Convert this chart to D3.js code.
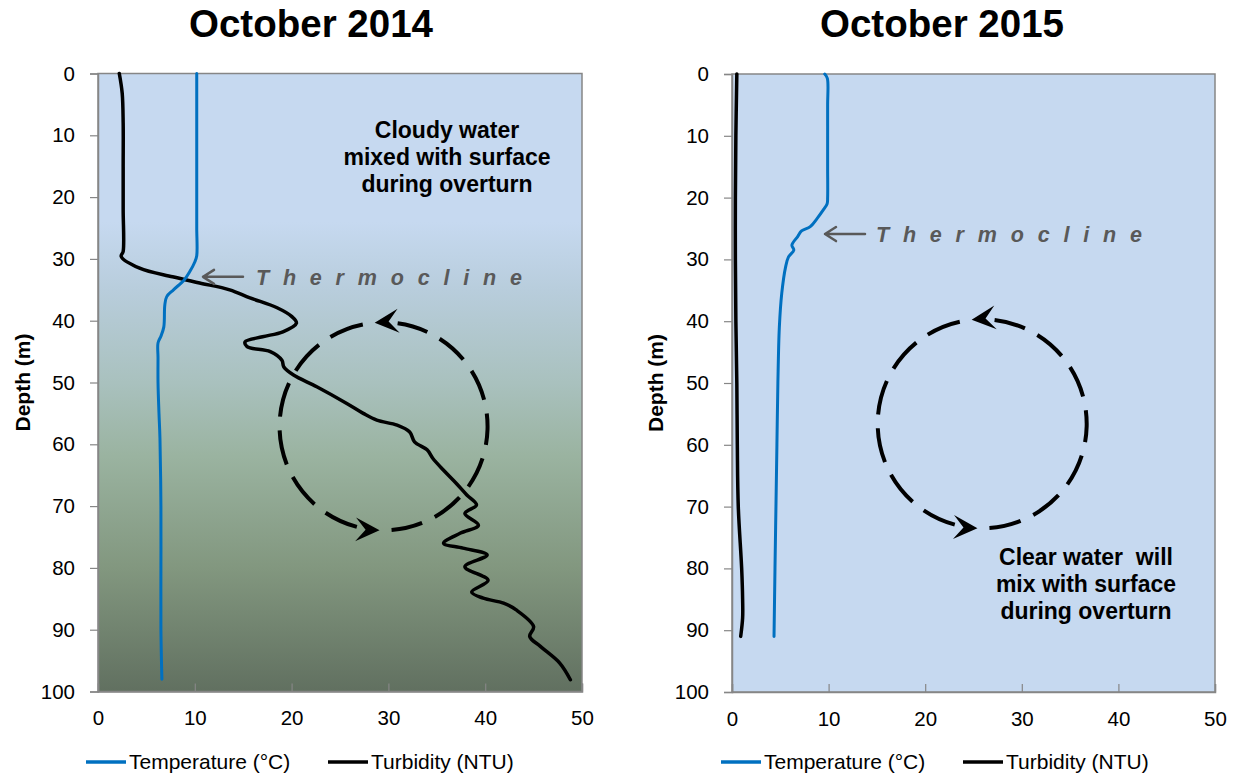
<!DOCTYPE html>
<html><head><meta charset="utf-8">
<script src="https://cdn.jsdelivr.net/npm/d3@7"></script>
<style>
body{margin:0;background:#fff}
text{font-family:"Liberation Sans",Arial,sans-serif}
</style>
</head><body>
<svg id="chart" width="1234" height="778"></svg>
<script>
// ---------- data ----------
const depthTicks = [0,10,20,30,40,50,60,70,80,90,100];
const valueTicks = [0,10,20,30,40,50];
const titles = ["October 2014","October 2015"];
const legendLabels = ["Temperature (°C)","Turbidity (NTU)"];
const axisLabel = "Depth (m)";
const thermoclineLabel = "Thermocline";
const note2014 = ["Cloudy water","mixed with surface","during overturn"];
const note2015 = ["Clear water  will","mix with surface","during overturn"];

// [depth (m), value]
const temp2014 = [[0,10.2],[5,10.2],[10,10.2],[15,10.2],[20,10.2],[25,10.2],[29.5,10.2],[30.5,10.0],[32,9.5],[33.4,8.9],[35,7.8],[36.1,7.1],[37.5,6.9],[41,6.8],[42.5,6.5],[43.6,6.2],[46,6.2],[50,6.2],[55,6.3],[59,6.4],[70,6.5],[80,6.5],[90,6.5],[98,6.6]];
const turb2014 = [[0,2.2],[3.2,2.5],[8,2.6],[15,2.6],[22,2.6],[28.8,2.6],[29.6,2.4],[31.5,4.3],[32.9,7.7],[33.9,10.5],[35.0,13.6],[36.3,15.7],[37.9,18.5],[39.3,20.0],[40.4,20.5],[41.8,19.1],[42.6,17.0],[43.4,15.2],[44.2,15.4],[45.0,17.8],[46.4,19.0],[47.5,19.2],[48.8,20.2],[50.7,22.6],[53.4,25.7],[55.0,27.4],[56.1,28.8],[56.9,30.9],[58.0,32.2],[59.6,32.7],[60.9,34.0],[62.3,34.6],[64.2,35.7],[66.3,37.0],[68.2,38.1],[69.8,39.1],[71.2,37.9],[73.1,39.3],[74.4,37.4],[76.0,35.7],[76.8,37.7],[77.9,40.2],[79.8,37.9],[82.0,40.3],[83.9,38.6],[84.9,39.8],[85.7,41.9],[86.8,43.2],[89.5,45.0],[91.1,44.6],[92.7,45.7],[95.4,47.7],[98.1,48.8]];
const temp2015 = [[0,9.6],[0.7,9.87],[5,9.9],[10,9.9],[15,9.9],[20,9.9],[21,9.85],[22,9.45],[23.4,8.8],[24.7,8.1],[25.4,7.2],[26.3,6.8],[27.7,6.2],[28.5,6.4],[29.6,5.85],[31.2,5.55],[35.5,5.15],[41,4.9],[50,4.75],[60,4.65],[70,4.55],[80,4.45],[91,4.35]];
const turb2015 = [[0,0.5],[10,0.4],[20,0.35],[30,0.35],[40,0.4],[50,0.5],[60,0.55],[70,0.65],[80,1.0],[85,1.1],[88,1.1],[91,0.9]];

// ---------- drawing ----------
const svg = d3.select("#chart");
const defs = svg.append("defs");
const grad = defs.append("linearGradient").attr("id","deep").attr("x1",0).attr("y1",0).attr("x2",0).attr("y2",1);
[[0,"#C6D9F0"],[0.24,"#C6D9F0"],[0.35,"#B8CDDC"],[0.5,"#A9C1BE"],[0.62,"#9AB3A0"],[0.8,"#82977F"],[1,"#617060"]]
  .forEach(([o,c])=>grad.append("stop").attr("offset",o).attr("stop-color",c));

const panels = [
  {x0:98, x1:582, y0:73.5, y1:691.5, fill:"url(#deep)", title:titles[0], temp:temp2014, turb:turb2014,
   note:note2014, noteX:447, noteY:138, thermoY:32.9, thermoArrowX:203, thermoTextX:256,
   loop:{cx:29.5, cy:57.1, r:104, top:-94.9, bottom:92.2}, titleX:311, labelX:30, legendX:86},
  {x0:732, x1:1215, y0:74, y1:692, fill:"#C6D9F0", title:titles[1], temp:temp2015, turb:turb2015,
   note:note2015, noteX:1086, noteY:565, thermoY:25.9, thermoArrowX:825, thermoTextX:876,
   loop:{cx:25.9, cy:56.6, r:104.5, top:-95.8, bottom:92.6}, titleX:942, labelX:663, legendX:721}
];

panels.forEach(p=>{
  const x = d3.scaleLinear().domain([0,50]).range([p.x0,p.x1]);
  const y = d3.scaleLinear().domain([0,100]).range([p.y0,p.y1]);
  const g = svg.append("g");

  g.append("rect").attr("x",p.x0).attr("y",p.y0).attr("width",p.x1-p.x0).attr("height",p.y1-p.y0)
    .attr("fill",p.fill).attr("stroke","#868686").attr("stroke-width",1.5);

  // axes
  const ya = g.append("g").attr("transform",`translate(${p.x0},0)`)
    .call(d3.axisLeft(y).tickValues(depthTicks).tickSize(8).tickPadding(15));
  const xa = g.append("g").attr("transform",`translate(0,${p.y1})`)
    .call(d3.axisBottom(x).tickValues(valueTicks).tickSize(-8).tickPadding(19));
  [ya,xa].forEach(a=>{
    a.select(".domain").attr("stroke","#868686").attr("stroke-width",1.5);
    a.selectAll(".tick line").attr("stroke","#868686").attr("stroke-width",1.2);
    a.selectAll(".tick text").attr("font-size",20.5).attr("fill","#000")
      .style("font-family",'"Liberation Sans",Arial,sans-serif');
  });
  xa.selectAll(".tick text").attr("dy","0.71em");

  // lines
  const line = d3.line().x(d=>x(d[1])).y(d=>y(d[0])).curve(d3.curveCatmullRom.alpha(0.5));
  g.append("path").datum(p.turb).attr("d",line).attr("fill","none").attr("stroke","#000")
    .attr("stroke-width",3.5).attr("stroke-linejoin","round").attr("stroke-linecap","round");
  g.append("path").datum(p.temp).attr("d",line).attr("fill","none").attr("stroke","#0070C0")
    .attr("stroke-width",3).attr("stroke-linejoin","round").attr("stroke-linecap","round");

  // thermocline annotation
  const ty = y(p.thermoY);
  const ax = p.thermoArrowX;
  g.append("path").attr("d",`M${ax+40},${ty} L${ax},${ty} M${ax+11},${ty-7} L${ax},${ty} L${ax+11},${ty+7}`)
    .attr("fill","none").attr("stroke","#595959").attr("stroke-width",2.5).attr("stroke-linecap","round").attr("stroke-linejoin","round");
  g.append("text").attr("x",p.thermoTextX).attr("y",ty+8).text(thermoclineLabel)
    .attr("font-size",21.5).attr("font-weight","bold").attr("font-style","italic")
    .attr("letter-spacing",13.8).attr("fill","#595959");

  // note
  p.note.forEach((t,i)=>{
    g.append("text").attr("x",p.noteX).attr("y",p.noteY+i*27).text(t)
      .attr("text-anchor","middle").attr("font-size",23).attr("font-weight","bold")
      .style("white-space","pre").attr("fill","#000");
  });

  // overturn loop: two dashed arcs, each running from just past one arrow tip to the next arrow's back
  const L = p.loop, cx = x(L.cx), cy = y(L.cy), r = L.r, rad = Math.PI/180;
  const alen = 23, gap0 = 12, dashT = 32, gapT = 14;
  const topTip = L.top*rad, botTip = L.bottom*rad;
  const arcs = [[topTip - gap0/r, botTip + alen/r],[botTip - gap0/r, topTip + alen/r]];
  arcs.forEach(([a0,a1])=>{
    let sweep = a0 - a1; while (sweep < 0) sweep += 2*Math.PI;
    const S = sweep*r;
    const n = Math.max(1, Math.round((S + gapT)/(dashT + gapT)));
    const dash = (S - (n-1)*gapT)/n;
    const pth = d3.path();
    pth.moveTo(cx + r*Math.cos(a0), cy + r*Math.sin(a0));
    pth.arc(cx, cy, r, a0, a1, true);
    g.append("path").attr("d",pth.toString()).attr("fill","none").attr("stroke","#000")
      .attr("stroke-width",4).attr("stroke-dasharray",`${dash},${gapT}`);
  });
  [topTip, botTip].forEach(a=>{
    const tx = cx + r*Math.cos(a), tyy = cy + r*Math.sin(a);
    const ang = Math.atan2(-Math.cos(a), Math.sin(a))/rad;
    g.append("path").attr("d","M0,0 L-24,-12 L-14,0 L-24,12 Z")
      .attr("transform",`translate(${tx},${tyy}) rotate(${ang})`).attr("fill","#000");
  });

  // title
  svg.append("text").attr("x",p.titleX).attr("y",37).text(p.title)
    .attr("text-anchor","middle").attr("font-size",38.5).attr("font-weight","bold");

  // y label
  svg.append("text").attr("transform",`translate(${p.labelX},${(p.y0+p.y1)/2}) rotate(-90)`)
    .text(axisLabel).attr("text-anchor","middle").attr("font-size",21).attr("font-weight","bold");

  // legend
  const lg = svg.append("g").attr("transform",`translate(${p.legendX},762)`);
  const colors = ["#0070C0","#000"];
  const offs = [0,242];
  legendLabels.forEach((t,i)=>{
    lg.append("line").attr("x1",offs[i]).attr("x2",offs[i]+40).attr("y1",0).attr("y2",0)
      .attr("stroke",colors[i]).attr("stroke-width",3.5);
    lg.append("text").attr("x",offs[i]+43).attr("y",7).text(t).attr("font-size",21).attr("fill","#000");
  });
});
</script>
</body></html>
